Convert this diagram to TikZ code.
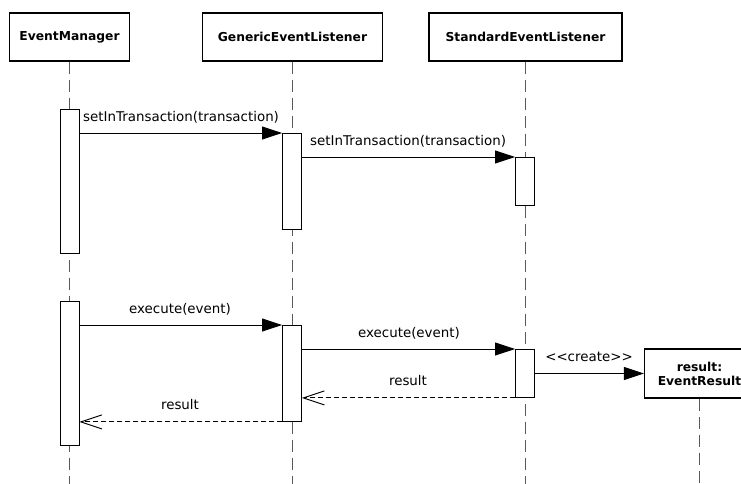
\documentclass[tikz,border=0pt]{standalone}
\usepackage{fontspec}
\setmainfont[Ligatures=NoCommon]{DejaVu Sans}
\usetikzlibrary{arrows.meta}
\begin{document}
\begin{tikzpicture}[x=1pt,y=-1pt,
  header/.style={draw,line width=1.2pt,fill=white,inner sep=0pt,font=\fontsize{12.3}{14}\selectfont\bfseries},
  lifeline/.style={draw=black!65,line width=1pt,dash pattern=on 12pt off 6pt},
  actbox/.style={draw,line width=0.9pt,fill=white},
  call/.style={line width=0.9pt,-{Triangle[length=20pt,width=13pt]}},
  ret/.style={line width=0.9pt,dash pattern=on 5pt off 3pt,-{Straight Barb[length=21pt,width=14pt,line width=0.9pt]}},
  lbl/.style={font=\fontsize{13.4}{15}\selectfont,inner sep=0pt}]
\clip (0,0) rectangle (741,484);
\fill[white] (0,0) rectangle (741,484);
% lifelines
\coordinate (l1e) at (69.5,484);
\coordinate (l2e) at (292.5,484);
\coordinate (l3e) at (525.5,484);
\coordinate (l4e) at (699.5,484);
\node[header,minimum width=120pt,minimum height=48pt] (em) at (69.5,37) {EventManager};
\node[header,minimum width=180pt,minimum height=48pt] (gel) at (292.5,37) {GenericEventListener};
\node[header,minimum width=193pt,minimum height=48pt] (sel) at (525.5,37) {StandardEventListener};
\node[header,minimum width=110pt,minimum height=49pt,align=center] (er) at (699.5,373.5) {result:\\[0pt]EventResult};
\draw[lifeline] (em.south) -- (l1e);
\draw[lifeline] (gel.south) -- (l2e);
\draw[lifeline] (sel.south) -- (l3e);
\draw[lifeline] (er.south) -- (l4e);
% activation boxes
\node[actbox,minimum width=19pt,minimum height=144pt,inner sep=0pt,anchor=north] (a1) at (69.5,109) {};
\node[actbox,minimum width=19pt,minimum height=96pt,inner sep=0pt,anchor=north] (b1) at (292,133) {};
\node[actbox,minimum width=19pt,minimum height=48pt,inner sep=0pt,anchor=north] (c1) at (525,157) {};
\node[actbox,minimum width=19pt,minimum height=144pt,inner sep=0pt,anchor=north] (a2) at (69.5,301) {};
\node[actbox,minimum width=19pt,minimum height=96pt,inner sep=0pt,anchor=north] (b2) at (292,325) {};
\node[actbox,minimum width=19pt,minimum height=48pt,inner sep=0pt,anchor=north] (c2) at (525,349) {};
% messages
\draw[call] (a1.east |- b1.north) -- (b1.north west);
\node[lbl,anchor=west] (m1) at (83,117) {setInTransaction(transaction)};
\draw[call] (b1.east |- c1.north) -- (c1.north west);
\node[lbl,anchor=west] (m2) at (310,141) {setInTransaction(transaction)};
\draw[call] (a2.east |- b2.north) -- (b2.north west);
\node[lbl] (m3) at (180,309) {execute(event)};
\draw[call] (b2.east |- c2.north) -- (c2.north west);
\node[lbl] (m4) at (409,333) {execute(event)};
\draw[call] (c2.east) -- (er.west);
\node[lbl] (m5) at (589,357) {{<}{<}create{>}{>}};
\draw[ret] (c2.south west) -- (b2.east |- c2.south);
\node[lbl] (m6) at (408,381) {result};
\draw[ret] (b2.south west) -- (a2.east |- b2.south);
\node[lbl] (m7) at (180,405) {result};
\end{tikzpicture}
\end{document}
